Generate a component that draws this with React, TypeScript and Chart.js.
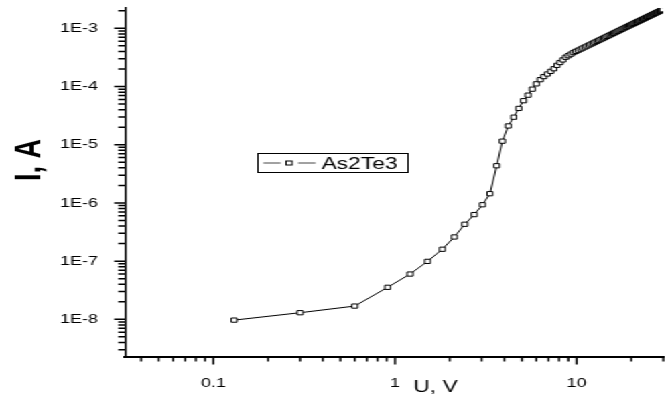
import React, { useEffect, useRef } from "react";
import { Chart, registerables } from "chart.js";

Chart.register(...registerables);

// I–V characteristic of an As2Te3 sample, log–log axes
const SERIES_LABEL = "As2Te3";

const VOLTAGE = [
  0.13, 0.3, 0.6, 0.91, 1.21, 1.51, 1.82, 2.12, 2.42, 2.73, 3.03, 3.33, 3.63,
  3.9, 4.2, 4.5, 4.8, 5.1, 5.4, 5.7, 6.0, 6.3, 6.6, 6.9, 7.2, 7.5, 7.8, 8.1,
  8.4, 8.7, 9.0, 9.3, 9.6, 9.9, 10.2, 10.5, 10.8, 11.1, 11.4, 11.7, 12.0, 12.3,
  12.6, 12.9, 13.2, 13.5, 13.8, 14.1, 14.4, 14.7, 15.0, 15.3, 15.6, 15.9, 16.2,
  16.5, 16.8, 17.1, 17.4, 17.7, 18.0, 18.3, 18.6, 18.9, 19.2, 19.5, 19.8, 20.1,
  20.4, 20.7, 21.0, 21.3, 21.6, 21.9, 22.2, 22.5, 22.8, 23.1, 23.4, 23.7, 24.0,
  24.3, 24.6, 24.9, 25.2, 25.5, 25.8, 26.1, 26.4, 26.7, 27.0, 27.3, 27.6, 27.9,
  28.2, 28.5, 28.8, 29.1, 29.4, 29.7,
];

const CURRENT = [
  9.7e-9, 1.3e-8, 1.69e-8, 3.55e-8, 6.0e-8, 9.9e-8, 1.6e-7, 2.6e-7, 4.3e-7,
  6.3e-7, 9.3e-7, 1.44e-6, 4.35e-6, 1.15e-5, 2.1e-5, 2.97e-5, 4.2e-5, 5.7e-5,
  7.1e-5, 9.0e-5, 1.11e-4, 1.31e-4, 1.48e-4, 1.64e-4, 1.82e-4, 2.02e-4,
  2.31e-4, 2.58e-4, 2.86e-4, 3.18e-4, 3.38e-4, 3.6e-4, 3.83e-4, 4.01e-4,
  4.19e-4, 4.38e-4, 4.57e-4, 4.76e-4, 4.95e-4, 5.15e-4, 5.35e-4, 5.55e-4,
  5.76e-4, 5.96e-4, 6.17e-4, 6.38e-4, 6.6e-4, 6.81e-4, 7.03e-4, 7.25e-4,
  7.48e-4, 7.7e-4, 7.93e-4, 8.16e-4, 8.39e-4, 8.63e-4, 8.86e-4, 9.1e-4,
  9.34e-4, 9.58e-4, 9.83e-4, 1.008e-3, 1.032e-3, 1.058e-3, 1.083e-3, 1.108e-3,
  1.134e-3, 1.16e-3, 1.186e-3, 1.212e-3, 1.239e-3, 1.265e-3, 1.292e-3,
  1.319e-3, 1.346e-3, 1.374e-3, 1.401e-3, 1.429e-3, 1.457e-3, 1.485e-3,
  1.513e-3, 1.542e-3, 1.57e-3, 1.599e-3, 1.628e-3, 1.657e-3, 1.687e-3,
  1.716e-3, 1.746e-3, 1.776e-3, 1.806e-3, 1.836e-3, 1.866e-3, 1.897e-3,
  1.927e-3, 1.958e-3, 1.989e-3, 2.02e-3, 2.052e-3, 2.083e-3,
];

const X_MAJOR = [0.1, 1, 10];
const X_TICK_LABELS = ["0.1", "1", "10"];
const Y_MAJOR = [1e-8, 1e-7, 1e-6, 1e-5, 1e-4, 1e-3];
const Y_TICK_LABELS = ["1E-8", "1E-7", "1E-6", "1E-5", "1E-4", "1E-3"];
const X_RANGE = [0.0326, 30];
const Y_RANGE = [2.3e-9, 2.23e-3];
const X_TITLE = "U, V";
const Y_TITLE = "I, A";

// The chart is drawn on a narrow canvas and widened horizontally.
const CANVAS_W = 500;
const CANVAS_H = 396;
const STRETCH_X = 670 / CANVAS_W;

const FONT = '"Liberation Sans", Arial, sans-serif';

const sameValue = (a: number, b: number) => Math.abs(a - b) <= Math.abs(b) * 1e-6;

// 1..9 × 10^n tick values inside a range
function decadeTicks(min: number, max: number) {
  const out: number[] = [];
  const lo = Math.floor(Math.log10(min));
  const hi = Math.ceil(Math.log10(max));
  for (let e = lo; e <= hi; e++) {
    for (let k = 1; k <= 9; k++) {
      const v = parseFloat((k * Math.pow(10, e)).toPrecision(6));
      if (v >= min && v <= max) out.push(v);
    }
  }
  return out;
}

function labelFor(value: number, majors: number[], labels: string[]) {
  const i = majors.findIndex((m) => sameValue(value, m));
  return i >= 0 ? labels[i] : "";
}

const axisDecor = {
  id: "axisDecor",
  afterDraw(chart: any) {
    const { ctx } = chart;
    const xs = chart.scales.x;
    const ys = chart.scales.y;
    const area = chart.chartArea;
    ctx.save();

    // outward tick marks, long at decades and short between them
    ctx.strokeStyle = "#000";
    ctx.lineWidth = 1.5;
    ctx.beginPath();
    xs.ticks.forEach((t: any) => {
      const p = xs.getPixelForValue(t.value);
      const len = X_MAJOR.some((m) => sameValue(t.value, m)) ? 8 : 5;
      ctx.moveTo(p, area.bottom);
      ctx.lineTo(p, area.bottom + len);
    });
    ys.ticks.forEach((t: any) => {
      const p = ys.getPixelForValue(t.value);
      const len = Y_MAJOR.some((m) => sameValue(t.value, m)) ? 8 : 5;
      ctx.moveTo(area.left, p);
      ctx.lineTo(area.left - len, p);
    });
    ctx.stroke();

    // axis captions
    ctx.fillStyle = "#000";
    ctx.font = `17px ${FONT}`;
    ctx.textAlign = "center";
    ctx.textBaseline = "alphabetic";
    ctx.fillText(X_TITLE, 325, 392);

    ctx.save();
    ctx.translate(30, 160);
    ctx.rotate(-Math.PI / 2);
    ctx.font = `bold 27px ${FONT}`;
    ctx.fillText(Y_TITLE, 0, 0);
    ctx.restore();

    // legend box
    const ds = chart.data.datasets[0];
    const bx = 192, by = 153, bw = 112, bh = 19;
    ctx.fillStyle = "#fff";
    ctx.fillRect(bx, by, bw, bh);
    ctx.strokeStyle = "#000";
    ctx.lineWidth = 1;
    ctx.strokeRect(bx + 0.5, by + 0.5, bw, bh);
    const ly = by + 10;
    ctx.strokeStyle = "#444";
    ctx.beginPath();
    ctx.moveTo(196.5, ly);
    ctx.lineTo(209.5, ly);
    ctx.moveTo(222.5, ly);
    ctx.lineTo(235.5, ly);
    ctx.stroke();
    ctx.strokeStyle = "#000";
    ctx.fillStyle = "#fff";
    ctx.fillRect(213.5, ly - 2, 4.5, 4);
    ctx.strokeRect(213.5, ly - 2, 4.5, 4);
    ctx.fillStyle = "#000";
    ctx.font = `17px ${FONT}`;
    ctx.textAlign = "left";
    ctx.fillText(ds.label, 240, 168.5);

    ctx.restore();
  },
};

export default function App() {
  const canvasRef = useRef<HTMLCanvasElement>(null);

  useEffect(() => {
    const canvas = canvasRef.current;
    if (!canvas) return;
    const points = VOLTAGE.map((u, i) => ({ x: u, y: CURRENT[i] }));

    const chart = new Chart(canvas, {
      type: "line",
      data: {
        datasets: [
          {
            label: SERIES_LABEL,
            data: points,
            borderColor: "#000",
            borderWidth: 1,
            pointStyle: "rect",
            pointRadius: 3,
            pointBorderWidth: 1,
            pointBackgroundColor: "#fff",
            pointBorderColor: "#000",
            tension: 0,
          },
        ],
      },
      options: {
        responsive: false,
        animation: false,
        devicePixelRatio: 1,
        layout: { padding: { top: 8, left: 0, right: 0, bottom: 0 } },
        plugins: {
          legend: { display: false },
          tooltip: { enabled: false },
          title: { display: false },
        },
        scales: {
          x: {
            type: "logarithmic",
            position: "bottom",
            min: X_RANGE[0],
            max: X_RANGE[1],
            grid: { display: false },
            border: { display: true, color: "#000", width: 2 },
            afterBuildTicks: (scale: any) => {
              scale.ticks = decadeTicks(X_RANGE[0], X_RANGE[1]).map((v) => ({ value: v }));
            },
            afterFit: (scale: any) => {
              scale.height = 39.5;
              scale.paddingLeft = 0;
              scale.paddingRight = 0;
            },
            ticks: {
              autoSkip: false,
              maxRotation: 0,
              padding: 11,
              color: "#000",
              font: { family: FONT, size: 13.5 },
              callback: (v: any) => labelFor(Number(v), X_MAJOR, X_TICK_LABELS),
            },
          },
          y: {
            type: "logarithmic",
            position: "left",
            min: Y_RANGE[0],
            max: Y_RANGE[1],
            grid: { display: false },
            border: { display: true, color: "#000", width: 1.5 },
            afterBuildTicks: (scale: any) => {
              scale.ticks = decadeTicks(Y_RANGE[0], Y_RANGE[1]).map((v) => ({ value: v }));
            },
            afterFit: (scale: any) => {
              scale.width = 93.3;
              scale.paddingTop = 0;
              scale.paddingBottom = 0;
            },
            ticks: {
              autoSkip: false,
              padding: 12,
              color: "#000",
              font: { family: FONT, size: 13.5 },
              callback: (v: any) => labelFor(Number(v), Y_MAJOR, Y_TICK_LABELS),
            },
          },
        },
      },
      plugins: [axisDecor],
    });

    return () => chart.destroy();
  }, []);

  return (
    <div
      style={{
        position: "absolute",
        left: 0,
        top: 0,
        width: CANVAS_W,
        height: CANVAS_H,
        background: "#fff",
        transform: `scaleX(${STRETCH_X})`,
        transformOrigin: "0 0",
      }}
    >
      <canvas
        ref={canvasRef}
        width={CANVAS_W}
        height={CANVAS_H}
        style={{ display: "block", width: CANVAS_W, height: CANVAS_H }}
      />
    </div>
  );
}
